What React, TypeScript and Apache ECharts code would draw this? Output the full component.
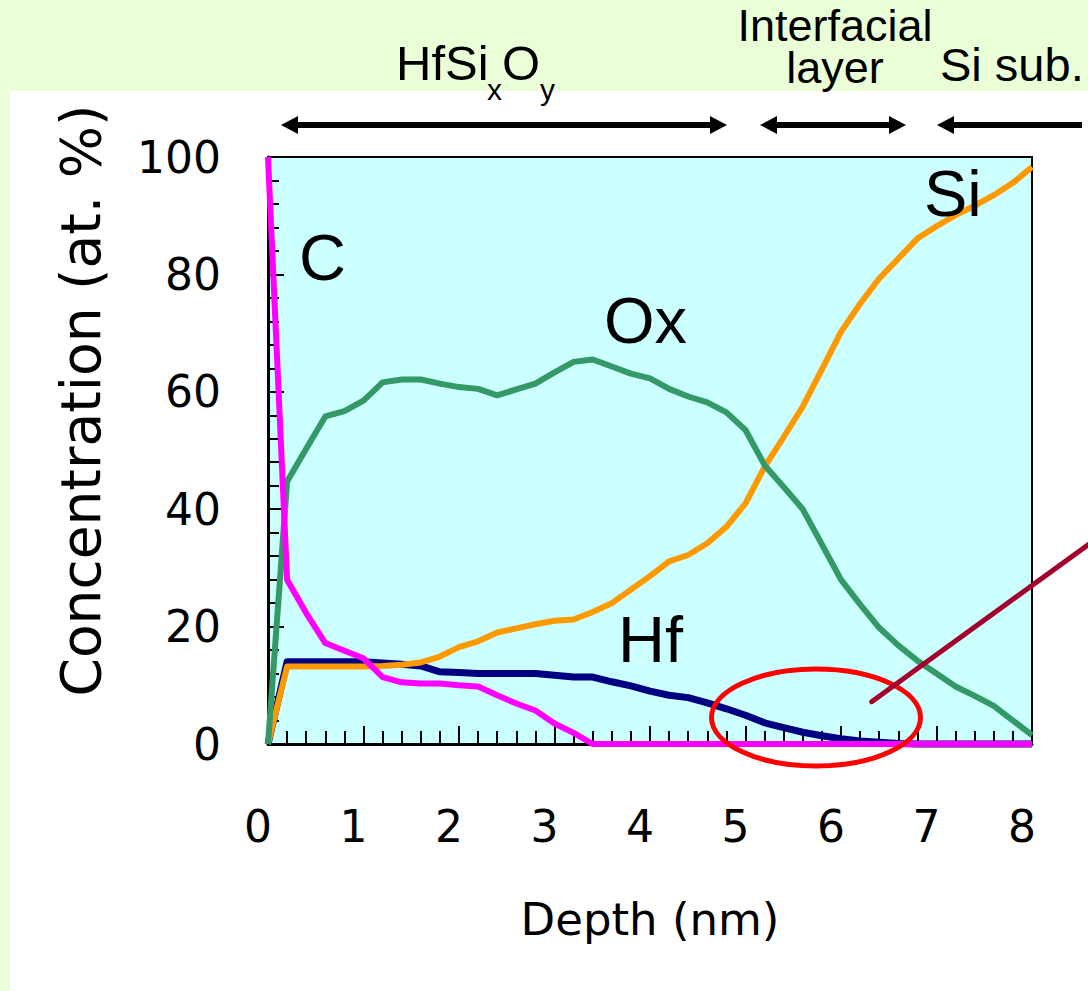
import React, { useEffect, useRef } from "react";
import * as echarts from "echarts";

// Depth grid (nm)
const depth = [0, 0.2, 0.4, 0.6, 0.8, 1.0, 1.2, 1.4, 1.6, 1.8, 2.0, 2.2, 2.4, 2.6, 2.8, 3.0, 3.2, 3.4, 3.6, 3.8, 4.0, 4.2, 4.4, 4.6, 4.8, 5.0, 5.2, 5.4, 5.6, 5.8, 6.0, 6.2, 6.4, 6.6, 6.8, 7.0, 7.2, 7.4, 7.6, 7.8, 8.0];

// Concentrations (at. %)
const hf = [0, 14.0, 14.0, 14.0, 14.0, 14.0, 13.8, 13.6, 13.3, 12.3, 12.2, 12.0, 12.0, 12.0, 12.0, 11.7, 11.4, 11.4, 10.6, 9.9, 9.0, 8.3, 7.9, 7.0, 6.0, 4.9, 3.6, 2.8, 2.0, 1.4, 0.9, 0.5, 0.3, 0.1, 0, 0, 0, 0, 0, 0, 0];
const si = [0, 13.2, 13.2, 13.2, 13.2, 13.2, 13.3, 13.5, 13.9, 14.9, 16.5, 17.5, 19.0, 19.7, 20.4, 21.0, 21.2, 22.5, 24.0, 26.3, 28.6, 31.1, 32.2, 34.2, 37.0, 41.0, 47.2, 52.3, 57.5, 63.8, 70.2, 75.0, 79.3, 82.7, 86.1, 88.2, 90.1, 91.7, 93.5, 95.6, 98.3];
const ox = [0, 44.7, 50.3, 55.8, 56.7, 58.5, 61.6, 62.1, 62.1, 61.4, 60.8, 60.5, 59.4, 60.4, 61.4, 63.3, 65.1, 65.5, 64.3, 63.1, 62.3, 60.5, 59.2, 58.2, 56.5, 53.5, 47.5, 43.8, 40.0, 34.0, 28.0, 23.8, 19.8, 16.8, 14.2, 12.0, 9.8, 8.2, 6.5, 4.0, 1.5];
const carbon = [100, 28.0, 22.3, 17.2, 15.9, 14.6, 11.4, 10.5, 10.3, 10.3, 10.0, 9.8, 8.3, 6.9, 5.7, 3.5, 1.9, 0, 0, 0, 0, 0, 0, 0, 0, 0, 0, 0, 0, 0, 0, 0, 0, 0, 0, 0, 0, 0, 0, 0, 0];

const seriesNames = ["Hf", "Si", "Ox", "C"];
const seriesColors = ["#000080", "#ff9900", "#339966", "#ff00ff"];
const seriesWidths = [7, 6, 6, 6];
const seriesData = [hf, si, ox, carbon];

const regionLabels = ["Interfacial\nlayer", "Si sub."];

const ARIAL = '"Liberation Sans", Arial, sans-serif';
const AXISFONT = '"DejaVu Sans", sans-serif';

function arrowGraphics(x1: number, x2: number, y: number, leftHead: boolean, rightHead: boolean) {
  const els: any[] = [];
  const hl = 17;
  const hw = 9;
  els.push({
    type: "line",
    z: 100,
    shape: { x1: leftHead ? x1 + hl - 2 : x1, y1: y, x2: rightHead ? x2 - hl + 2 : x2, y2: y },
    style: { stroke: "#000", lineWidth: 6 },
  });
  if (leftHead) {
    els.push({
      type: "polygon",
      z: 100,
      shape: { points: [[x1, y], [x1 + hl, y - hw], [x1 + hl, y + hw]] },
      style: { fill: "#000" },
    });
  }
  if (rightHead) {
    els.push({
      type: "polygon",
      z: 100,
      shape: { points: [[x2, y], [x2 - hl, y - hw], [x2 - hl, y + hw]] },
      style: { fill: "#000" },
    });
  }
  return els;
}

function txt(text: string, x: number, y: number, size: number, align = "left", lineHeight?: number) {
  return {
    type: "text",
    z: 100,
    style: {
      text,
      x,
      y,
      fill: "#000",
      fontSize: size,
      fontFamily: ARIAL,
      align,
      verticalAlign: "middle",
      lineHeight,
    },
  };
}

export default function App() {
  const ref = useRef<HTMLDivElement>(null);

  useEffect(() => {
    if (!ref.current) return;
    const chart = echarts.init(ref.current, undefined, { renderer: "svg" });

    const graphic: any[] = [
      {
        type: "rect",
        z: -10,
        silent: true,
        shape: { x: 10, y: 91, width: 1078, height: 900 },
        style: { fill: "#ffffff" },
      },
      // HfSixOy
      txt("HfSi", 396, 63, 49),
      txt("x", 487, 89.6, 30),
      txt("O", 502, 63, 49),
      txt("y", 540, 89.6, 30),
      txt(regionLabels[0], 835, 46.5, 45, "center", 42),
      txt(regionLabels[1], 940, 64.5, 47, "left"),
      ...arrowGraphics(281, 727, 125, true, true),
      ...arrowGraphics(760, 906, 125, true, true),
      ...arrowGraphics(937, 1082, 125, true, false),
      // series labels inside plot
      txt("C", 299, 257.8, 65),
      txt("Ox", 604, 320, 65),
      txt("Si", 924, 193, 65),
      txt("Hf", 618, 639.5, 65),
      {
        type: "ellipse",
        z: 110,
        shape: { cx: 816, cy: 717.5, rx: 104.5, ry: 48.5 },
        style: { fill: "none", stroke: "#ff0000", lineWidth: 5 },
      },
      {
        type: "line",
        z: 111,
        shape: { x1: 871.7, y1: 701.7, x2: 1092, y2: 542 },
        style: { stroke: "#a3002b", lineWidth: 5, lineCap: "round" },
      },
    ];

    const option: any = {
      animation: false,
      backgroundColor: "#eaffd8",
      grid: {
        left: 268,
        top: 157,
        width: 764,
        height: 587,
        show: true,
        backgroundColor: "#ccffff",
        borderColor: "#000",
        borderWidth: 2,
      },
      xAxis: {
        type: "value",
        min: 0,
        max: 8,
        interval: 1,
        name: "Depth (nm)",
        nameLocation: "middle",
        nameGap: 153,
        nameTextStyle: { fontSize: 45, fontFamily: AXISFONT, color: "#000" },
        axisLine: { show: true, onZero: false, lineStyle: { color: "#000", width: 3 } },
        axisTick: { show: true, inside: true, length: 18, lineStyle: { color: "#000", width: 2 } },
        minorTick: { show: true, splitNumber: 5, length: 13, lineStyle: { color: "#000", width: 2 } },
        splitLine: { show: false },
        axisLabel: {
          fontSize: 44,
          fontFamily: AXISFONT,
          color: "#000",
          margin: 60,
          padding: [0, 20, 0, 0],
        },
      },
      yAxis: {
        type: "value",
        min: 0,
        max: 100,
        interval: 20,
        name: "Concentration (at. %)",
        nameLocation: "middle",
        nameGap: 160,
        nameTextStyle: { fontSize: 55, fontFamily: AXISFONT, color: "#000", padding: [0, 0, 0, 100] },
        axisLine: { show: true, onZero: false, lineStyle: { color: "#000", width: 3 } },
        axisTick: { show: true, inside: true, length: 16, lineStyle: { color: "#000", width: 2 } },
        minorTick: { show: true, splitNumber: 5, length: 11, lineStyle: { color: "#000", width: 2 } },
        splitLine: { show: false },
        axisLabel: {
          fontSize: 44,
          fontFamily: AXISFONT,
          color: "#000",
          margin: 47,
        },
      },
      series: seriesNames.map((name, k) => ({
        name,
        type: "line",
        showSymbol: false,
        symbol: "none",
        clip: false,
        z: 3 + k,
        data: depth.map((d, i) => [d, seriesData[k][i]]),
        lineStyle: { color: seriesColors[k], width: seriesWidths[k], join: "round" },
        itemStyle: { color: seriesColors[k] },
      })),
      graphic,
    };

    chart.setOption(option);
    return () => chart.dispose();
  }, []);

  return (
    <div
      ref={ref}
      style={{ position: "fixed", left: 0, top: 0, width: 1088, height: 991 }}
    />
  );
}
